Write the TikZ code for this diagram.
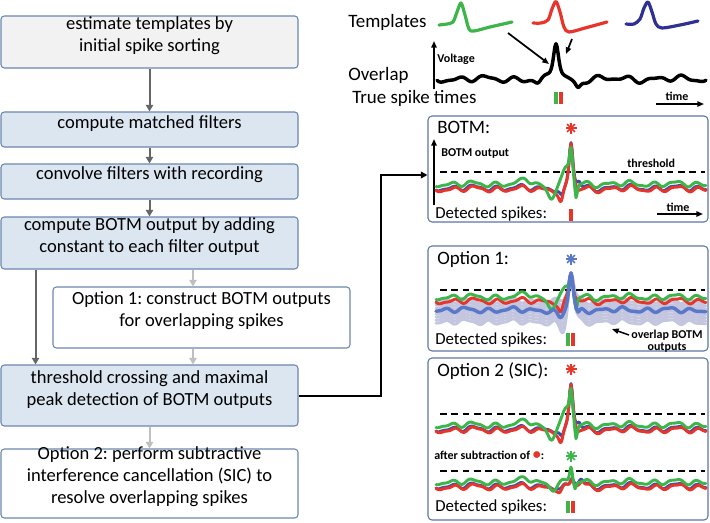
\documentclass[tikz,border=0pt]{standalone}
\usepackage{fontspec}
\setmainfont{Carlito}
\usetikzlibrary{arrows.meta,fit}
\definecolor{tred}{HTML}{E8352B}
\definecolor{tgreen}{HTML}{3DB54A}
\definecolor{tblue}{HTML}{2E3192}
\definecolor{bblue}{HTML}{3A4FA8}
\definecolor{oblue}{HTML}{5A78C8}
\definecolor{band}{HTML}{C3C6DE}
\definecolor{boxblue}{HTML}{DCE6F1}
\definecolor{boxgray}{HTML}{F2F2F2}
\definecolor{boxborder}{HTML}{6A86AE}
\definecolor{pborder}{HTML}{5B77A3}
\definecolor{adark}{HTML}{666666}
\definecolor{alight}{HTML}{BFBFBF}
\newcommand\boxfont{\fontsize{13.9}{16.5}\selectfont}
\frenchspacing
\begin{document}
\begin{tikzpicture}[x=0.75pt,y=-0.75pt,
 declare function={bump(\p)=(1/(1+\p*\p))*(1/(1+\p*\p));
   nz(\q)=2.0*sin(16*\q)+1.0*sin(27*\q+60)+1.0*sin(7*\q+20);},
 lbox/.style={draw=boxborder, line width=0.8pt, rounded corners=2.5pt, fill=boxblue, inner sep=0pt, align=center, font=\boxfont},
 gbox/.style={lbox, fill=boxgray},
 wbox/.style={lbox, fill=white},
 pbox/.style={draw=pborder, line width=0.8pt, rounded corners=3pt, inner sep=0pt},
 darr/.style={draw=adark, line width=1.5pt, -{Triangle[length=5pt,width=5.5pt]}},
 larr/.style={darr, draw=alight},
 conn/.style={draw=black, line width=1.5pt, -{Triangle[length=5pt,width=5pt]}},
 axisarr/.style={draw=black, line width=1.2pt, -{Triangle[length=5pt,width=4pt]}},
 trace/.style={line width=2.2pt, line join=round, line cap=round},
 thr/.style={draw=black, line width=1.3pt, dash pattern=on 5pt off 3.5pt},
 ptitle/.style={anchor=west, inner sep=0pt, font=\fontsize{14.2}{15}\selectfont},
 plabel/.style={anchor=west, inner sep=0pt, font=\fontsize{12.6}{14}\selectfont},
 smalltxt/.style={inner sep=0pt, font=\fontsize{9}{9}\selectfont\bfseries},
 astk/.pic={\foreach \ang in {0,45,90,135} \draw[line width=1.3pt] (\ang:5.5) -- (\ang+180:5.5);},
]
\useasboundingbox (0,0) rectangle (710,522);

% ---------- left flow chart ----------
\node[gbox, fit={(1,16)(298,68)}] (b1) {estimate templates by\\initial spike sorting};
\node[lbox, fit={(1,112)(298,147)}] (b2) {compute matched filters};
\node[lbox, fit={(1,164)(298,199)}] (b3) {convolve filters with recording};
\node[lbox, fit={(1,217)(298,269)}] (b4) {compute BOTM output by adding\\constant to each filter output};
\node[wbox, fit={(53,287)(350,348)}] (o1) {Option 1: construct BOTM outputs\\for overlapping spikes};
\node[lbox, fit={(1,365)(298,426)}] (b5) {threshold crossing and maximal\\peak detection of BOTM outputs};
\node[wbox, fit={(1,449)(298,518)}] (o2) {Option 2: perform subtractive\\interference cancellation (SIC) to\\resolve overlapping spikes};

\draw[darr] (b1) -- (b2);
\draw[darr] (b2) -- (b3);
\draw[darr] (b3) -- (b4);
\draw[larr] ([xshift=-6.4pt]o1.north |- b4.south) -- ([xshift=-6.4pt]o1.north);
\draw[larr] ([xshift=-6.4pt]o1.south) -- ([xshift=-6.4pt]o1.south |- b5.north);
\draw[darr] ([xshift=26.3pt]b4.south west) -- ([xshift=26.3pt]b5.north west);
\draw[larr] (b5) -- (o2);

% ---------- right panels ----------
\node[pbox, fit={(428,116)(708,222)}] (pbotm) {};
\node[pbox, fit={(428,246)(708,351)}] (popt1) {};
\node[pbox, fit={(428,358)(708,520)}] (popt2) {};

\coordinate (cb) at (381,175);
\draw[conn] (b5.east) -| (cb) -- (cb -| pbotm.west);

% ---------- top: templates and overlap ----------
\node[ptitle] (tl) at (348,22) {Templates};
\node[ptitle] (ol) at (348,75) {Overlap};
\node[ptitle] (tst) at (352,98) {True spike times};

\draw[trace, tgreen, line width=2.4pt] plot[smooth, tension=0.5] coordinates {(439,25) (447,24) (453,22) (457,12) (461,3) (465,15) (469,29) (474,31) (490,27) (512,22)};
\draw[trace, tred, line width=2.4pt] plot[smooth, tension=0.5] coordinates {(533,23) (541,23) (548,20) (552,9) (556,1.5) (560,12) (564,27) (569,32) (585,28) (607,22)};
\draw[trace, tblue, line width=2.4pt] plot[smooth, tension=0.5] coordinates {(626,24) (634,24) (640,19) (644,8) (648,2) (652,12) (656,24) (662,28) (680,25) (698,21)};

\draw[trace, black, line width=2.6pt] plot[domain=0:269, samples=270] ({437+\x}, {79 + 1.1*nz(\x*0.8) - 38*bump((\x-119)/5) + 5*bump((\x-101)/6) + 8*bump((\x-141)/5)});

\coordinate (gt) at (508,33); \coordinate (gp) at (549,64);
\coordinate (rt) at (572,39); \coordinate (rp) at (566,54);
\draw[axisarr, line width=1.3pt] (gt) -- (gp);
\draw[axisarr, line width=1.3pt] (rt) -- (rp);

\coordinate (v0) at (434,89); \coordinate (v1) at (434,41);
\draw[axisarr] (v0) -- (v1);
\node[smalltxt, anchor=west] (volt) at (437,59) {Voltage};

\fill[tgreen] (554,92) rectangle (558,104);
\fill[tred] (558.5,92) rectangle (562.5,104);

\node[smalltxt] (tm1) at (677,96) {time};
\coordinate (ta0) at (656,104); \coordinate (ta1) at (704,104);
\draw[axisarr] (ta0) -- (ta1);

% ---------- BOTM panel ----------
\node[ptitle] (bt) at (437,127) {BOTM:};
\pic[color=tred] at (571,128) {astk};
\coordinate (bv0) at (434,205); \coordinate (bv1) at (434,139);
\draw[axisarr] (bv0) -- (bv1);
\node[smalltxt, anchor=west] (bo) at (441,154) {BOTM output};
\node[smalltxt, anchor=west] (th) at (627,163) {threshold};
\coordinate (d0) at (440,172); \coordinate (d1) at (705,172);
\draw[thr] (d0) -- (d1);
\begin{scope}[shift={(0,3)}]
\draw[trace, bblue] plot[domain=0:270, samples=271] ({436+\x}, {185 + nz(\x+1) - 46*bump((\x-135)/3.5) + 10*bump((\x-126)/4) - 6*bump((\x-143)/3)});
\draw[trace, tred] plot[domain=0:270, samples=271] ({436+\x}, {186 + nz(\x) - 46*bump((\x-135)/3.5) + 14*bump((\x-125)/4) + 3*bump((\x-142)/3)});
\draw[trace, tgreen] plot[domain=0:270, samples=271] ({436+\x}, {181 + nz(\x+2) - 33*bump((\x-135)/3) - 14*bump((\x-130)/6) + 13*bump((\x-115)/7) - 5*bump((\x-90)/7) + 17*bump((\x-140)/2.2)});
\end{scope}
\node[plabel] (ds1) at (435,214) {Detected spikes:};
\fill[tred] (569,209) rectangle (573,221);
\node[smalltxt] (tm2) at (678,207) {time};
\coordinate (tb0) at (657,214); \coordinate (tb1) at (703,214);
\draw[axisarr] (tb0) -- (tb1);

% ---------- Option 1 panel ----------
\node[ptitle] (o1t) at (437,259) {Option 1:};
\pic[color=oblue] at (571,259) {astk};
\begin{scope}[shift={(0,5)}]
\foreach \k in {-9,-6,-3,0,3,6,9,12}
  \draw[trace, band, line width=2.2pt] plot[domain=0:270, samples=271] ({436+\x}, {305 + \k + 0.9*nz(\x+9) - (37+\k)*bump((\x-135)/5) + (7+0.6*\k)*bump((\x-127)/6)});
\end{scope}
\coordinate (e0) at (440,290); \coordinate (e1) at (705,290);
\draw[thr] (e0) -- (e1);
\begin{scope}[shift={(0,5)}]
\draw[trace, tred] plot[domain=0:270, samples=271] ({436+\x}, {296 + nz(\x) - 28*bump((\x-135)/3.5) + 12*bump((\x-125)/4)});
\draw[trace, tgreen] plot[domain=0:270, samples=271] ({436+\x}, {292 + nz(\x+2) - 20*bump((\x-135)/3) - 8*bump((\x-130)/6) + 10*bump((\x-115)/7) - 4*bump((\x-90)/7) + 14*bump((\x-140)/2.2)});
\draw[trace, oblue, line width=2.6pt] plot[domain=0:270, samples=271] ({436+\x}, {305 + 0.9*nz(\x+9) - 38*bump((\x-135)/4) + 9*bump((\x-124)/6) + 6*bump((\x-142)/3)});
\end{scope}
\node[plabel] (ds2) at (435,340) {Detected spikes:};
\fill[tgreen] (566,333) rectangle (570,346);
\fill[tred] (570.5,333) rectangle (574.5,346);
\node[smalltxt, align=center] (ob) at (667,341) {overlap BOTM\\outputs};
\coordinate (oa0) at (629,335); \coordinate (oa1) at (612,329);
\draw[axisarr, line width=1.1pt] (oa0) -- (oa1);

% ---------- Option 2 panel ----------
\node[ptitle] (o2t) at (437,371) {Option 2 (SIC):};
\pic[color=tred] at (571,369) {astk};
\coordinate (f0) at (440,414); \coordinate (f1) at (705,414);
\draw[thr] (f0) -- (f1);
\begin{scope}[shift={(0,244)}]
\draw[trace, bblue] plot[domain=0:270, samples=271] ({436+\x}, {185 + nz(\x+1) - 46*bump((\x-135)/3.5) + 10*bump((\x-126)/4) - 6*bump((\x-143)/3)});
\draw[trace, tred] plot[domain=0:270, samples=271] ({436+\x}, {186 + nz(\x) - 46*bump((\x-135)/3.5) + 14*bump((\x-125)/4) + 3*bump((\x-142)/3)});
\draw[trace, tgreen] plot[domain=0:270, samples=271] ({436+\x}, {181 + nz(\x+2) - 33*bump((\x-135)/3) - 14*bump((\x-130)/6) + 13*bump((\x-115)/7) - 5*bump((\x-90)/7) + 17*bump((\x-140)/2.2)});
\end{scope}
\node[smalltxt, anchor=west] (as) at (434,455) {after subtraction of {\color{tred}\fontsize{12}{12}\selectfont•}:};
\pic[color=tgreen] at (571,456) {astk};
\coordinate (g0) at (440,471); \coordinate (g1) at (705,471);
\draw[thr] (g0) -- (g1);
\draw[trace, bblue] plot[domain=0:270, samples=271] ({436+\x}, {486 + nz(\x+1) - 8*bump((\x-136)/3) + 4*bump((\x-125)/4) - 7*bump((\x-145)/4)});
\draw[trace, tred] plot[domain=0:270, samples=271] ({436+\x}, {487 + nz(\x) - 8*bump((\x-136)/3) + 5*bump((\x-124)/4) - 6*bump((\x-146)/4)});
\draw[trace, tgreen] plot[domain=0:270, samples=271] ({436+\x}, {482 + nz(\x+2) - 16*bump((\x-135)/2.5) - 4*bump((\x-90)/7) + 6*bump((\x-117)/7) + 8*bump((\x-139)/2.2)});
\node[plabel] (ds3) at (435,507) {Detected spikes:};
\fill[tgreen] (566,501) rectangle (570,513);
\fill[tred] (570.5,501) rectangle (574.5,513);
\end{tikzpicture}
\end{document}
